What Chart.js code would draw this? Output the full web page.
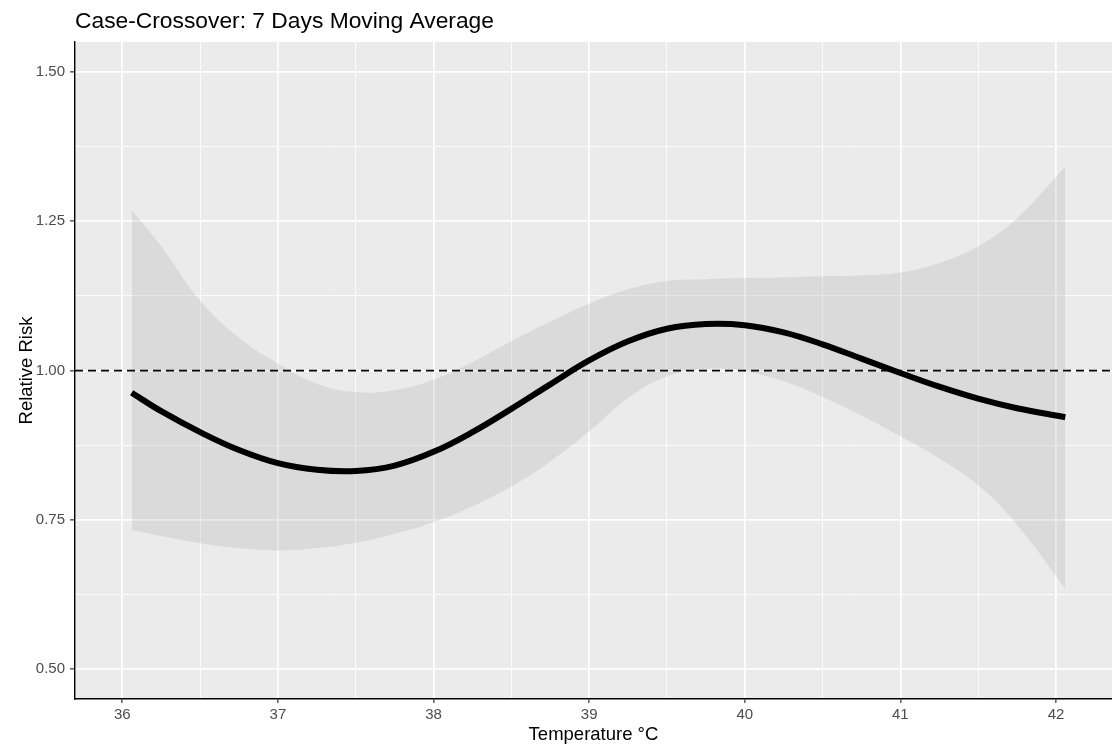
<!DOCTYPE html>
<html>
<head>
<meta charset="utf-8">
<script src="https://cdn.jsdelivr.net/npm/chart.js@4/dist/chart.umd.min.js"></script>
<style>
  html, body { margin: 0; padding: 0; background: #ffffff; }
  #wrap { width: 1112px; height: 748px; position: relative; }
</style>
</head>
<body>
<div id="wrap"><canvas id="c" width="1112" height="748"></canvas></div>
<script>
// ---- data ----
const chartTitle = 'Case-Crossover: 7 Days Moving Average';
const xTitle = 'Temperature °C';
const yTitle = 'Relative Risk';

const temperature = [36.06, 36.25, 36.5, 36.75, 37.0, 37.25, 37.5, 37.75, 38.0, 38.25, 38.5, 38.75,
                     39.0, 39.25, 39.5, 39.75, 40.0, 40.25, 40.5, 40.75, 41.0, 41.25, 41.5, 41.75, 42.06];
const relativeRisk = [0.963, 0.932, 0.897, 0.867, 0.845, 0.834, 0.832, 0.841, 0.864, 0.897, 0.936, 0.977,
                      1.017, 1.049, 1.070, 1.078, 1.076, 1.064, 1.044, 1.020, 0.996, 0.973, 0.953, 0.937, 0.922];
const upperCI = [1.269, 1.208, 1.117, 1.055, 1.012, 0.978, 0.964, 0.967, 0.985, 1.014, 1.049, 1.082,
                 1.112, 1.136, 1.150, 1.153, 1.155, 1.156, 1.158, 1.159, 1.164, 1.180, 1.208, 1.255, 1.341];
const lowerCI = [0.733, 0.723, 0.711, 0.703, 0.699, 0.703, 0.712, 0.727, 0.746, 0.773, 0.806, 0.848,
                 0.898, 0.954, 0.990, 1.003, 0.999, 0.982, 0.956, 0.925, 0.890, 0.853, 0.808, 0.742, 0.635];
const referenceRisk = 1.0;

const xTickValues = [36, 36.5, 37, 37.5, 38, 38.5, 39, 39.5, 40, 40.5, 41, 41.5, 42];
const yTickValues = [0.5, 0.625, 0.75, 0.875, 1.0, 1.125, 1.25, 1.375, 1.5];
const xLimits = [35.696, 42.36];
const yLimits = [0.4503, 1.550];

// ---- helpers ----
const pts = (ys) => temperature.map((x, i) => ({ x: x, y: ys[i] }));
const isMajorX = (v) => Math.abs(v - Math.round(v)) < 1e-6;
const isMajorY = (v) => Math.abs(v * 4 - Math.round(v * 4)) < 1e-6;

const panelBg = {
  id: 'panelBg',
  beforeDraw(chart) {
    const { ctx, chartArea: a } = chart;
    ctx.save();
    ctx.fillStyle = '#EBEBEB';
    ctx.fillRect(a.left, a.top, a.right - a.left, a.bottom - a.top);
    ctx.restore();
  }
};

const texts = {
  id: 'texts',
  afterDraw(chart) {
    const { ctx, chartArea: a } = chart;
    ctx.save();
    ctx.fillStyle = '#000000';
    ctx.textBaseline = 'alphabetic';
    ctx.font = '22.8px "Liberation Sans", Arial, sans-serif';
    ctx.textAlign = 'left';
    ctx.fillText(chartTitle, a.left, 28);
    ctx.font = '18.5px "Liberation Sans", Arial, sans-serif';
    ctx.textAlign = 'center';
    ctx.fillText(xTitle, (a.left + a.right) / 2, 740);
    ctx.translate(32, (a.top + a.bottom) / 2);
    ctx.rotate(-Math.PI / 2);
    ctx.fillText(yTitle, 0, 0);
    ctx.restore();
  }
};

const smooth = { tension: 0.4, cubicInterpolationMode: 'default' };

new Chart(document.getElementById('c'), {
  type: 'line',
  data: {
    datasets: [
      Object.assign({
        label: 'fit',
        data: pts(relativeRisk),
        borderColor: '#000000',
        borderWidth: 6,
        pointRadius: 0,
        fill: false,
        order: 0
      }, smooth),
      {
        label: 'reference',
        data: [{ x: xLimits[0], y: referenceRisk }, { x: xLimits[1], y: referenceRisk }],
        borderColor: '#000000',
        borderWidth: 1.6,
        borderDash: [8, 5],
        pointRadius: 0,
        fill: false,
        order: 1
      },
      Object.assign({
        label: 'upper',
        data: pts(upperCI),
        borderWidth: 0,
        borderColor: 'rgba(0,0,0,0)',
        backgroundColor: 'rgba(150,150,150,0.2)',
        pointRadius: 0,
        fill: '+1',
        order: 2
      }, smooth),
      Object.assign({
        label: 'lower',
        data: pts(lowerCI),
        borderWidth: 0,
        borderColor: 'rgba(0,0,0,0)',
        pointRadius: 0,
        fill: false,
        order: 3
      }, smooth)
    ]
  },
  options: {
    responsive: false,
    animation: false,
    events: [],
    layout: { padding: { left: 0, right: 0, top: 42, bottom: 0 } },
    plugins: {
      legend: { display: false },
      title: { display: false },
      tooltip: { enabled: false }
    },
    scales: {
      x: {
        type: 'linear',
        min: xLimits[0],
        max: xLimits[1],
        afterBuildTicks(scale) { scale.ticks = xTickValues.map(v => ({ value: v })); },
        afterFit(scale) { scale.height = 49; },
        border: { display: true, color: '#000000', width: 1.4 },
        grid: {
          color: '#FFFFFF',
          lineWidth: (c) => (c.tick && isMajorX(c.tick.value)) ? 1.7 : 0.8,
          tickLength: 4,
          tickWidth: 1.2,
          tickColor: (c) => (c.tick && isMajorX(c.tick.value)) ? '#333333' : 'rgba(0,0,0,0)'
        },
        ticks: {
          autoSkip: false,
          maxRotation: 0,
          padding: 3,
          color: '#4D4D4D',
          font: { family: '"Liberation Sans", Arial, sans-serif', size: 15 },
          callback: (v) => isMajorX(v) ? String(Math.round(v)) : ''
        }
      },
      y: {
        type: 'linear',
        min: yLimits[0],
        max: yLimits[1],
        afterBuildTicks(scale) { scale.ticks = yTickValues.map(v => ({ value: v })); },
        afterFit(scale) { scale.width = 75; },
        border: { display: true, color: '#000000', width: 1.4 },
        grid: {
          color: '#FFFFFF',
          lineWidth: (c) => (c.tick && isMajorY(c.tick.value)) ? 1.7 : 0.8,
          tickLength: 5,
          tickWidth: 1.2,
          tickColor: (c) => (c.tick && isMajorY(c.tick.value)) ? '#333333' : 'rgba(0,0,0,0)'
        },
        ticks: {
          autoSkip: false,
          padding: 5,
          color: '#4D4D4D',
          font: { family: '"Liberation Sans", Arial, sans-serif', size: 15 },
          callback: (v) => isMajorY(v) ? v.toFixed(2) : ''
        }
      }
    }
  },
  plugins: [panelBg, texts]
});
</script>
</body>
</html>
